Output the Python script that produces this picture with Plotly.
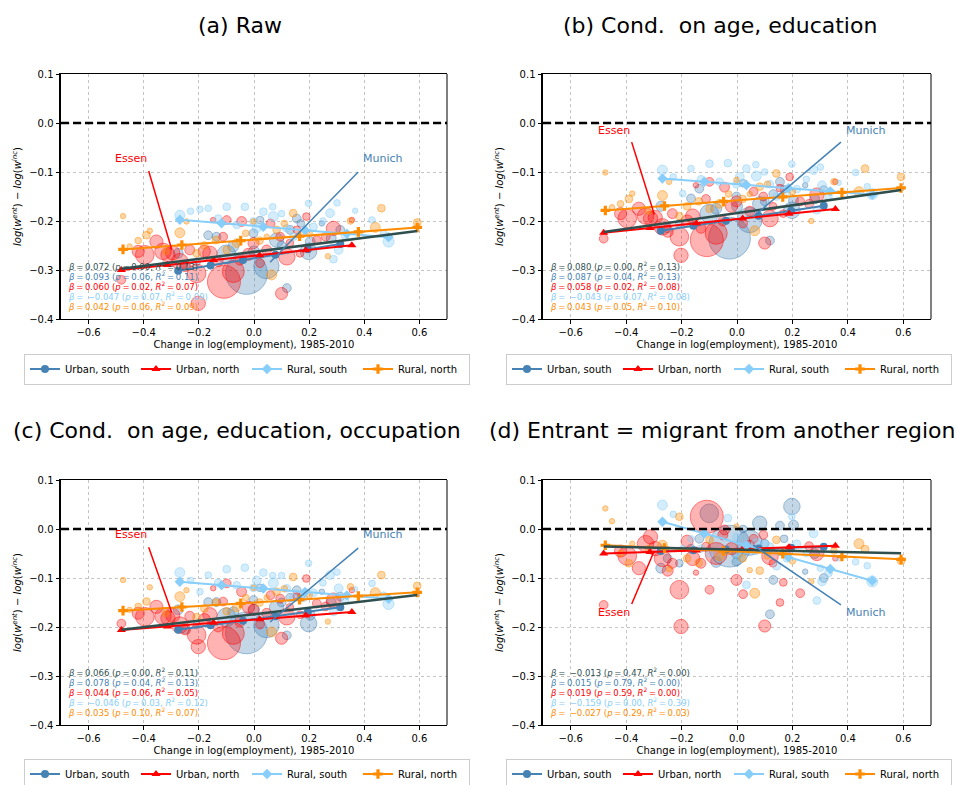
import numpy as np
import plotly.graph_objects as go

W, H = 957, 785

# ---------------- data ----------------
# Urban, south
us_x = [-0.275, -0.208, -0.166, -0.136, -0.075, -0.027, -0.002, 0.022, 0.045, 0.082, 0.119, 0.131, 0.155, 0.198, 0.204, 0.246, 0.313,
        -0.250, -0.100, 0.000, 0.100, 0.170, 0.280]
us_emp = [56, 34, 44, 44, 69, 1003, 44, 34, 367, 117, 44, 44, 44, 156, 56, 17, 44,
          44, 200, 69, 44, 34, 56]
us_y_a = [-0.266, -0.283, -0.229, -0.232, -0.252, -0.307, -0.225, -0.198, -0.292, -0.239, -0.337, -0.218, -0.195, -0.262, -0.242, -0.205, -0.218,
          -0.290, -0.268, -0.262, -0.250, -0.205, -0.235]
us_y_b = [-0.170, -0.205, -0.154, -0.134, -0.175, -0.235, -0.150, -0.123, -0.198, -0.165, -0.240, -0.145, -0.120, -0.178, -0.158, -0.127, -0.137,
          -0.215, -0.185, -0.170, -0.160, -0.135, -0.155]
us_y_c = [-0.165, -0.196, -0.149, -0.149, -0.170, -0.212, -0.145, -0.120, -0.196, -0.160, -0.217, -0.140, -0.125, -0.193, -0.176, -0.128, -0.138,
          -0.205, -0.180, -0.165, -0.150, -0.140, -0.150]
us_y_d = [-0.080, -0.070, -0.040, -0.020, -0.067, -0.035, -0.067, 0.000, -0.028, 0.012, -0.174, -0.104, 0.007, 0.046, 0.008, -0.087, -0.100,
          -0.060, 0.032, -0.050, -0.030, -0.020, -0.050]

# Urban, north
un_x = [-0.481, -0.396, -0.354, -0.312, -0.295, -0.269, -0.233, -0.208, -0.202, -0.160, -0.148, -0.112, -0.109, -0.099, -0.075, -0.051, -0.045, -0.002, 0.022, 0.046, 0.095, 0.100, 0.119, 0.155, 0.167, 0.190, 0.228, 0.288, 0.355,
        -0.420, -0.330, -0.250, -0.180, -0.130, -0.020, 0.060, 0.130, 0.260]
un_emp = [44, 200, 100, 117, 117, 156, 56, 200, 117, 117, 17, 44, 625, 44, 278, 56, 56, 69, 44, 56, 44, 84, 156, 34, 34, 34, 44, 117, 17,
          84, 156, 69, 84, 56, 84, 44, 34, 44]
un_y_a = [-0.320, -0.269, -0.242, -0.269, -0.265, -0.283, -0.259, -0.307, -0.368, -0.266, -0.198, -0.232, -0.324, -0.198, -0.303, -0.280, -0.201, -0.245, -0.286, -0.259, -0.232, -0.348, -0.273, -0.218, -0.266, -0.191, -0.239, -0.215, -0.198,
          -0.262, -0.262, -0.292, -0.262, -0.283, -0.268, -0.205, -0.245, -0.232]
un_y_b = [-0.236, -0.195, -0.175, -0.195, -0.193, -0.212, -0.185, -0.232, -0.270, -0.190, -0.127, -0.155, -0.239, -0.120, -0.225, -0.200, -0.131, -0.160, -0.205, -0.180, -0.150, -0.245, -0.195, -0.133, -0.185, -0.110, -0.160, -0.147, -0.120,
          -0.185, -0.190, -0.222, -0.200, -0.215, -0.170, -0.140, -0.170, -0.165]
un_y_c = [-0.193, -0.179, -0.159, -0.182, -0.176, -0.196, -0.178, -0.216, -0.240, -0.175, -0.121, -0.148, -0.233, -0.111, -0.213, -0.190, -0.128, -0.165, -0.195, -0.172, -0.142, -0.223, -0.179, -0.138, -0.175, -0.101, -0.152, -0.145, -0.125,
          -0.172, -0.178, -0.205, -0.185, -0.200, -0.160, -0.135, -0.160, -0.158]
un_y_d = [-0.155, -0.055, -0.080, -0.016, -0.040, -0.060, -0.070, -0.124, -0.199, -0.060, -0.089, -0.036, 0.025, -0.124, -0.050, -0.012, -0.002, -0.104, -0.133, -0.033, -0.012, -0.198, -0.056, -0.150, -0.109, -0.040, -0.131, -0.050, -0.060,
          -0.045, -0.030, -0.085, -0.025, -0.070, -0.040, -0.020, -0.070, -0.035]

# Rural, south
rs_x = [-0.269, -0.196, -0.166, -0.099, -0.063, -0.033, -0.002, 0.034, 0.068, 0.070, 0.119, 0.143, 0.198, 0.216, 0.276, 0.288, 0.301, 0.307, 0.367, 0.428, 0.488,
        -0.230, -0.130, 0.010, 0.100, 0.180, 0.250, 0.330, 0.470]
rs_emp = [56, 25, 25, 34, 34, 34, 34, 34, 25, 56, 34, 34, 25, 34, 44, 34, 25, 44, 17, 25, 69,
          25, 34, 44, 25, 34, 25, 34, 25]
rs_y_a = [-0.188, -0.176, -0.174, -0.171, -0.208, -0.171, -0.201, -0.181, -0.171, -0.191, -0.215, -0.232, -0.164, -0.212, -0.184, -0.278, -0.163, -0.259, -0.179, -0.198, -0.242,
          -0.180, -0.195, -0.215, -0.185, -0.225, -0.200, -0.230, -0.225]
rs_y_b = [-0.096, -0.144, -0.093, -0.083, -0.120, -0.082, -0.125, -0.093, -0.085, -0.108, -0.125, -0.150, -0.084, -0.135, -0.096, -0.178, -0.090, -0.127, -0.122, -0.101, -0.145,
          -0.110, -0.115, -0.110, -0.100, -0.145, -0.115, -0.150, -0.130]
rs_y_c = [-0.089, -0.128, -0.094, -0.082, -0.115, -0.079, -0.120, -0.089, -0.095, -0.110, -0.121, -0.140, -0.070, -0.130, -0.094, -0.169, -0.088, -0.121, -0.123, -0.111, -0.153,
          -0.105, -0.110, -0.105, -0.095, -0.140, -0.110, -0.145, -0.135]
rs_y_d = [0.049, -0.040, -0.020, -0.050, -0.060, 0.022, -0.016, -0.114, -0.046, -0.030, -0.036, -0.076, 0.025, -0.030, -0.009, -0.146, -0.080, -0.107, -0.060, -0.067, -0.107,
          0.030, -0.040, -0.060, -0.030, -0.060, -0.050, -0.090, -0.075]

# Rural, north
rn_x = [-0.475, -0.451, -0.390, -0.378, -0.269, -0.245, -0.208, -0.138, -0.099, -0.063, -0.002, 0.046, 0.064, 0.082, 0.142, 0.268, 0.440, 0.462, 0.592,
        -0.420, -0.320, -0.180, -0.030, 0.020, 0.110, 0.200, 0.350]
rn_emp = [17, 17, 34, 17, 56, 17, 34, 34, 34, 44, 17, 17, 56, 34, 34, 17, 56, 34, 34,
          25, 25, 34, 25, 34, 25, 25, 25]
rn_y_a = [-0.190, -0.252, -0.229, -0.220, -0.224, -0.201, -0.266, -0.239, -0.259, -0.245, -0.201, -0.232, -0.310, -0.218, -0.184, -0.272, -0.213, -0.174, -0.203,
          -0.240, -0.262, -0.250, -0.225, -0.240, -0.205, -0.225, -0.200]
rn_y_b = [-0.101, -0.172, -0.155, -0.144, -0.148, -0.120, -0.190, -0.160, -0.175, -0.165, -0.116, -0.145, -0.220, -0.130, -0.103, -0.200, -0.140, -0.093, -0.110,
          -0.165, -0.180, -0.170, -0.145, -0.155, -0.125, -0.140, -0.120]
rn_y_c = [-0.104, -0.165, -0.148, -0.119, -0.138, -0.125, -0.180, -0.150, -0.168, -0.160, -0.120, -0.140, -0.210, -0.128, -0.098, -0.189, -0.130, -0.094, -0.116,
          -0.158, -0.172, -0.162, -0.140, -0.150, -0.122, -0.135, -0.118]
rn_y_d = [0.042, 0.016, -0.070, -0.030, -0.033, -0.082, 0.025, -0.069, -0.022, -0.056, 0.005, -0.084, -0.131, -0.085, -0.022, -0.107, -0.030, -0.041, -0.065,
          -0.050, -0.040, -0.060, -0.045, -0.060, -0.055, -0.065, -0.045]

# regression results per panel: (beta, p, R2, intercept)
reg_a = {"total": (0.072, 0.00, 0.13, -0.263), "us": (0.093, 0.06, 0.11, -0.276), "un": (0.060, 0.02, 0.07, -0.271),
         "rs": (-0.047, 0.07, 0.09, -0.210), "rn": (0.042, 0.06, 0.09, -0.238)}
reg_b = {"total": (0.080, 0.00, 0.13, -0.184), "us": (0.087, 0.04, 0.13, -0.196), "un": (0.058, 0.02, 0.08, -0.196),
         "rs": (-0.043, 0.07, 0.08, -0.125), "rn": (0.043, 0.05, 0.10, -0.158)}
reg_c = {"total": (0.066, 0.00, 0.11, -0.174), "us": (0.078, 0.04, 0.13, -0.184), "un": (0.044, 0.06, 0.05, -0.185),
         "rs": (-0.046, 0.03, 0.12, -0.120), "rn": (0.035, 0.10, 0.07, -0.150)}
reg_d = {"total": (-0.013, 0.47, 0.00, -0.042), "us": (0.015, 0.79, 0.00, -0.041), "un": (0.019, 0.59, 0.00, -0.041),
         "rs": (-0.159, 0.00, 0.39, -0.028), "rn": (-0.027, 0.29, 0.03, -0.046)}

group_names = {"us": "Urban, south", "un": "Urban, north", "rs": "Rural, south", "rn": "Rural, north"}
panel_titles = ["(a) Raw", "(b) Cond.  on age, education", "(c) Cond.  on age, education, occupation",
                "(d) Entrant = migrant from another region"]
x_label = "Change in log(employment), 1985-2010"
essen_idx = 4     # index in Urban, north
munich_idx = 8    # index in Urban, south
# label anchor positions (text, line start) per panel
essen_lbl = [(-0.447, -0.073, -0.382, -0.098), (-0.445, -0.015, -0.380, -0.039),
             (-0.447, -0.012, -0.382, -0.037), (-0.445, -0.171, -0.380, -0.153)]
munich_lbl = [(0.469, -0.073, 0.378, -0.100), (0.465, -0.015, 0.375, -0.039),
              (0.469, -0.012, 0.378, -0.039), (0.465, -0.171, 0.375, -0.155)]

# ---------------- styling ----------------
colors = {"total": "#2F4F4F", "us": "#4682B4", "un": "#FF0000", "rs": "#87CEFA", "rn": "#FF8C00"}
fill = {"us": "rgba(70,130,180,0.45)", "un": "rgba(255,0,0,0.42)", "rs": "rgba(135,206,250,0.5)", "rn": "rgba(255,140,0,0.5)"}
edge = {"us": "rgba(70,130,180,0.75)", "un": "rgba(255,0,0,0.7)", "rs": "rgba(135,206,250,0.8)", "rn": "rgba(255,140,0,0.75)"}
symbols = {"us": "circle", "un": "triangle-up", "rs": "diamond", "rn": "cross"}

data = {
    "us": (us_x, us_emp, [us_y_a, us_y_b, us_y_c, us_y_d]),
    "un": (un_x, un_emp, [un_y_a, un_y_b, un_y_c, un_y_d]),
    "rs": (rs_x, rs_emp, [rs_y_a, rs_y_b, rs_y_c, rs_y_d]),
    "rn": (rn_x, rn_emp, [rn_y_a, rn_y_b, rn_y_c, rn_y_d]),
}
regs = [reg_a, reg_b, reg_c, reg_d]

# panel boxes in pixels: (left, right), (top, bottom)
boxes = [((61, 447), (74, 319)), ((543, 931), (74, 319)), ((61, 447), (480, 725)), ((543, 931), (480, 725))]
title_pos = [(240, 26), (720, 26), (237, 430), (722, 430)]
legend_pos = [(247, 369), (729, 369), (247, 774), (729, 774)]

FONT = "DejaVu Sans"
fig = go.Figure()
layout = dict(width=W, height=H, margin=dict(l=0, r=0, t=0, b=0, autoexpand=False),
              plot_bgcolor="white", paper_bgcolor="white",
              showlegend=True, font=dict(family=FONT, size=10, color="black"))
shapes, annotations = [], []


def fmt(v):
    s = f"{abs(v):.3f}"
    return (" \u2212" + s) if v < 0 else s


for i in range(4):
    n = i + 1
    xa = "x" if n == 1 else f"x{n}"
    ya = "y" if n == 1 else f"y{n}"
    leg = "legend" if n == 1 else f"legend{n}"
    (l, r), (t, b) = boxes[i]
    common = dict(showgrid=True, gridcolor="#c4c4c4", griddash="dot", gridwidth=0.8, zeroline=False,
                  ticks="outside", ticklen=3.5, tickwidth=0.8, tickcolor="black", automargin=False,
                  tickfont=dict(family=FONT, size=10, color="black"), tickformat=".1f")
    layout["xaxis" if n == 1 else f"xaxis{n}"] = dict(
        common, domain=[l / W, r / W], anchor=ya, range=[-0.7, 0.7], tick0=0, dtick=0.2,
        showline=True, linecolor="black", linewidth=1, mirror=True,
        title=dict(text=x_label, font=dict(family=FONT, size=10), standoff=4))
    layout["yaxis" if n == 1 else f"yaxis{n}"] = dict(
        common, domain=[1 - b / H, 1 - t / H], anchor=xa, range=[-0.4, 0.1], tick0=0, dtick=0.1,
        showline=True, linecolor="black", linewidth=2,
        title=dict(text="<i>log</i>(<i>w</i><sup><i>ent</i></sup>) \u2212 <i>log</i>(<i>w</i><sup><i>inc</i></sup>)",
                   font=dict(family=FONT, size=10), standoff=6))
    # right spine
    shapes.append(dict(type="line", xref=f"{xa} domain", yref=f"{ya} domain", x0=1, x1=1, y0=0, y1=1,
                       line=dict(color="black", width=1)))
    # zero line
    shapes.append(dict(type="line", xref=f"{xa} domain", yref=ya, x0=0, x1=1, y0=0, y1=0,
                       line=dict(color="black", width=2.5, dash="8px,4px"), layer="above"))

    # bubbles
    for g in ["us", "un", "rs", "rn"]:
        gx, gemp, gys = data[g]
        size = 1.32 * np.sqrt(np.array(gemp, dtype=float))
        fig.add_trace(go.Scatter(x=gx, y=gys[i], mode="markers", xaxis=xa, yaxis=ya, showlegend=False,
                                 hoverinfo="skip",
                                 marker=dict(size=size, sizemode="diameter", color=fill[g],
                                             line=dict(color=edge[g], width=1))))
    # group regression lines
    for g in ["us", "un", "rs", "rn"]:
        gx = data[g][0]
        beta, p, r2, icpt = regs[i][g]
        lx = np.linspace(min(gx), max(gx), 6)
        ly = icpt + beta * lx
        fig.add_trace(go.Scatter(x=lx, y=ly, mode="lines+markers", xaxis=xa, yaxis=ya, name=group_names[g],
                                 legend=leg, showlegend=True, hoverinfo="skip",
                                 line=dict(color=colors[g], width=2),
                                 marker=dict(symbol=symbols[g], size=8, color=colors[g])))
    # total line
    allx = us_x + un_x + rs_x + rn_x
    beta, p, r2, icpt = regs[i]["total"]
    tx = np.array([min(allx), max(allx)])
    fig.add_trace(go.Scatter(x=tx, y=icpt + beta * tx, mode="lines", xaxis=xa, yaxis=ya, showlegend=False,
                             hoverinfo="skip", line=dict(color=colors["total"], width=2.5)))

    # regression text
    for k, g in enumerate(["total", "us", "un", "rs", "rn"]):
        beta, p, r2, icpt = regs[i][g]
        txt = (f"<i>β</i>\u2009=\u2009{fmt(beta)} (<i>p</i>\u2009=\u2009{p:.2f}, "
               f"<i>R</i><sup>2</sup>\u2009=\u2009{r2:.2f})")
        annotations.append(dict(xref=f"{xa} domain", yref=f"{ya} domain", x=0.012, y=0.216 - k * 0.0408,
                                text=txt, showarrow=False, xanchor="left", yanchor="middle",
                                font=dict(family=FONT, size=8.5, color=colors[g])))

    # Essen / Munich
    for (lbl, col, gx, gy, idx, name) in [
        (essen_lbl[i], "#FF0000", un_x, data["un"][2][i], essen_idx, "Essen"),
        (munich_lbl[i], "#4682B4", us_x, data["us"][2][i], munich_idx, "Munich"),
    ]:
        tx_, ty_, sx, sy = lbl
        px, py = gx[idx], gy[idx]
        ex, ey = px + (sx - px) * 0.04, py + (sy - py) * 0.04
        shapes.append(dict(type="line", xref=xa, yref=ya, x0=sx, y0=sy, x1=ex, y1=ey,
                           line=dict(color=col, width=1.5), layer="above"))
        annotations.append(dict(xref=xa, yref=ya, x=tx_, y=ty_, text=name, showarrow=False,
                                xanchor="center", yanchor="middle", font=dict(family=FONT, size=11, color=col)))

    # title
    tpx, tpy = title_pos[i]
    annotations.append(dict(xref="paper", yref="paper", x=tpx / W, y=1 - tpy / H, text=panel_titles[i],
                            showarrow=False, xanchor="center", yanchor="middle",
                            font=dict(family=FONT, size=22, color="black")))
    # legend
    lpx, lpy = legend_pos[i]
    layout[leg] = dict(orientation="h", x=lpx / W, y=1 - lpy / H, xanchor="center", yanchor="middle",
                       bordercolor="#cccccc", borderwidth=1, bgcolor="white",
                       font=dict(family=FONT, size=10, color="black"),
                       entrywidth=66, entrywidthmode="pixels", itemwidth=30, tracegroupgap=0)

layout["shapes"] = shapes
layout["annotations"] = annotations
fig.update_layout(**layout)
fig.write_html("out.html", config={"displayModeBar": False},
               post_script="document.body.style.margin='0px';document.body.style.overflow='hidden';")
